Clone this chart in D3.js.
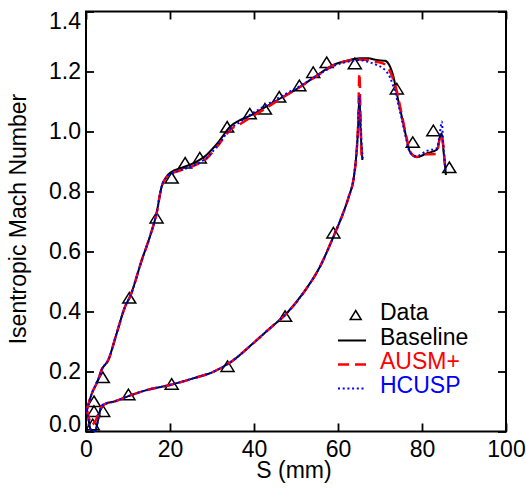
<!DOCTYPE html>
<html>
<head>
<meta charset="utf-8">
<script src="https://cdn.jsdelivr.net/npm/d3@7/dist/d3.min.js"></script>
<style>
  body { margin: 0; background: #fff; }
  svg { display: block; }
  text { font-family: "Liberation Sans", Arial, sans-serif; }
</style>
</head>
<body>
<svg id="chart" width="526" height="489"></svg>
<script>
// ---- Data (S in mm, isentropic Mach number) ----
const xTicks = [0, 20, 40, 60, 80, 100];
const yTicks = [0.0, 0.2, 0.4, 0.6, 0.8, 1.0, 1.2, 1.4];

// Experimental data
const dataS = [1.9, 4.0, 10.3, 16.8, 20.4, 23.6, 27.1, 33.6, 39.0, 42.6, 46.0, 50.8, 54.1, 57.3, 64.0, 74.0, 77.8, 82.7, 86.5,
               1.6, 1.9, 4.1, 10.1, 20.4, 33.7, 47.4, 58.9];
const dataM = [0.099, 0.179, 0.444, 0.711, 0.844, 0.894, 0.911, 1.014, 1.058, 1.074, 1.114, 1.152, 1.196, 1.229, 1.225, 1.141, 0.963, 1.002, 0.879,
               0.022, 0.066, 0.066, 0.122, 0.157, 0.216, 0.383, 0.661];

// Baseline – suction side
const baseUpS = [0.2, 1.4, 2.9, 3.7, 5.3, 7.3, 9.3, 10.5, 13.3, 15.2, 16.8, 18.0, 19.2, 20.4, 22.4, 25.5, 28.7, 30.3, 31.9, 34.3, 36.7, 39.0, 42.2, 46.2, 51.0, 55.7, 58.9, 62.1, 65.2, 67.2, 69.2, 71.2, 72.4, 73.2, 74.0, 75.2, 76.4, 77.1, 78.7, 81.1, 83.6, 84.3, 84.7, 85.1, 85.7];
const baseUpM = [0.072, 0.127, 0.172, 0.205, 0.238, 0.327, 0.416, 0.450, 0.572, 0.649, 0.727, 0.816, 0.850, 0.866, 0.877, 0.894, 0.922, 0.945, 0.972, 1.016, 1.038, 1.052, 1.077, 1.110, 1.149, 1.194, 1.222, 1.236, 1.244, 1.244, 1.238, 1.236, 1.216, 1.183, 1.127, 1.049, 0.972, 0.933, 0.914, 0.927, 0.940, 0.983, 0.994, 0.938, 0.855];
// Baseline – pressure side
const baseLoS = [0.2, 0.6, 1.0, 1.6, 2.2, 2.9, 3.7, 4.9, 6.5, 10.1, 14.4, 20.0, 25.5, 30.3, 34.3, 39.8, 43.8, 47.8, 51.7, 55.7, 58.9, 60.9, 62.5, 63.8, 64.4, 64.8, 65.1, 65.4, 65.8];
const baseLoM = [0.072, 0.040, 0.010, 0.000, 0.002, 0.040, 0.085, 0.094, 0.099, 0.118, 0.138, 0.155, 0.177, 0.199, 0.230, 0.294, 0.344, 0.394, 0.461, 0.549, 0.649, 0.716, 0.780, 0.850, 0.927, 1.016, 1.120, 1.000, 0.905];

// AUSM+ – suction side
const ausmUpS = [0.2, 1.4, 2.9, 3.7, 5.3, 7.3, 9.3, 10.5, 13.3, 15.2, 16.8, 18.0, 19.2, 20.4, 22.4, 25.5, 28.7, 31.9, 34.3, 36.7, 39.0, 42.2, 46.2, 51.0, 55.7, 58.9, 62.1, 65.2, 67.2, 69.2, 71.0, 72.2, 73.0, 74.0, 75.2, 76.4, 77.1, 78.7, 81.1, 83.4, 84.5, 85.0, 85.5];
const ausmUpM = [0.072, 0.127, 0.172, 0.205, 0.238, 0.327, 0.416, 0.450, 0.572, 0.649, 0.727, 0.816, 0.848, 0.860, 0.870, 0.885, 0.910, 0.962, 1.005, 1.025, 1.045, 1.072, 1.108, 1.149, 1.192, 1.220, 1.235, 1.240, 1.238, 1.232, 1.225, 1.205, 1.180, 1.135, 1.055, 0.975, 0.935, 0.916, 0.924, 0.925, 0.988, 0.960, 0.883];
// AUSM+ – pressure side
const ausmLoS = [0.2, 0.7, 1.4, 2.0, 2.9, 3.7, 4.9, 6.5, 10.1, 14.4, 20.0, 25.5, 30.3, 34.3, 39.8, 43.8, 47.8, 51.7, 55.7, 58.9, 60.9, 62.5, 63.8, 64.4, 64.8, 65.1, 65.35, 65.6];
const ausmLoM = [0.072, 0.045, 0.022, 0.030, 0.055, 0.082, 0.094, 0.099, 0.118, 0.138, 0.155, 0.177, 0.199, 0.230, 0.294, 0.344, 0.394, 0.461, 0.549, 0.649, 0.716, 0.780, 0.850, 0.927, 1.030, 1.194, 1.050, 0.920];

// HCUSP – suction side
const hcuspUpS = [0.2, 1.4, 2.9, 3.7, 5.3, 7.3, 9.3, 10.5, 13.3, 15.2, 16.8, 18.0, 19.2, 20.4, 22.4, 25.5, 28.7, 31.9, 34.3, 36.7, 39.0, 42.2, 46.2, 51.0, 55.7, 58.9, 62.1, 65.2, 67.2, 69.2, 70.8, 72.4, 73.2, 74.0, 75.2, 76.4, 77.1, 78.7, 81.1, 83.6, 84.3, 84.7, 85.1, 85.6];
const hcuspUpM = [0.072, 0.127, 0.172, 0.205, 0.238, 0.327, 0.416, 0.450, 0.572, 0.649, 0.727, 0.816, 0.848, 0.860, 0.870, 0.886, 0.912, 0.964, 1.008, 1.032, 1.055, 1.082, 1.115, 1.152, 1.192, 1.218, 1.232, 1.238, 1.232, 1.222, 1.210, 1.180, 1.150, 1.110, 1.040, 0.965, 0.930, 0.918, 0.935, 0.945, 1.000, 1.033, 0.950, 0.870];
// HCUSP – pressure side
const hcuspLoS = [0.2, 0.6, 1.0, 1.6, 2.2, 2.9, 3.7, 4.9, 6.5, 10.1, 14.4, 20.0, 25.5, 30.3, 34.3, 39.8, 43.8, 47.8, 51.7, 55.7, 58.9, 60.9, 62.5, 63.8, 64.4, 64.8, 65.1, 65.45, 65.9];
const hcuspLoM = [0.072, 0.040, 0.010, 0.000, 0.002, 0.040, 0.085, 0.094, 0.099, 0.118, 0.138, 0.155, 0.177, 0.199, 0.230, 0.294, 0.344, 0.394, 0.461, 0.549, 0.649, 0.716, 0.780, 0.850, 0.927, 1.016, 1.120, 1.000, 0.910];

const legendLabels = ["Data", "Baseline", "AUSM+", "HCUSP"];

// ---- Layout ----
const svg = d3.select("#chart");
const L = 86, R = 506, T = 11.5, B = 431.5;
const x = d3.scaleLinear().domain([0, 100]).range([L, R]);
const y = d3.scaleLinear().domain([0, 1.4]).range([B, T]);
const FS = 23;

const zip = (a, b) => a.map((v, i) => [v, b[i]]);
const line = d3.line().x(d => x(d[0])).y(d => y(d[1])).curve(d3.curveMonotoneX);

// Axes
const gB = svg.append("g").attr("transform", `translate(0,${B})`)
  .call(d3.axisBottom(x).tickValues(xTicks).tickSizeInner(-8).tickSizeOuter(0).tickPadding(9.5).tickFormat(d3.format("d")));
const gL = svg.append("g").attr("transform", `translate(${L},0)`)
  .call(d3.axisLeft(y).tickValues(yTicks).tickSizeInner(-8).tickSizeOuter(0).tickPadding(5).tickFormat(d3.format(".1f")));
svg.append("g").attr("transform", `translate(0,${T})`)
  .call(d3.axisTop(x).tickValues(xTicks).tickSizeInner(-8).tickSizeOuter(0).tickFormat(""));
svg.append("g").attr("transform", `translate(${R},0)`)
  .call(d3.axisRight(y).tickValues(yTicks).tickSizeInner(-8).tickSizeOuter(0).tickFormat(""));

svg.selectAll(".domain").remove();
svg.selectAll(".tick line").attr("stroke", "#000").attr("stroke-width", 1.8);
svg.selectAll(".tick text").attr("fill", "#000").style("font-size", FS + "px")
  .style("font-family", '"Liberation Sans", Arial, sans-serif');
// keep end labels inside the frame
gL.selectAll(".tick text").filter(d => d === 1.4).attr("dy", "0.72em");
gL.selectAll(".tick text").filter(d => d === 0).attr("dy", "-0.02em");

svg.append("rect").attr("x", L).attr("y", T).attr("width", R - L).attr("height", B - T)
  .attr("fill", "none").attr("stroke", "#000").attr("stroke-width", 2);

// Axis titles
svg.append("text").attr("x", 294).attr("y", 478).attr("text-anchor", "middle")
  .style("font-size", FS + "px").text("S (mm)");
svg.append("text").attr("transform", `translate(26,${219}) rotate(-90)`).attr("text-anchor", "middle")
  .style("font-size", "23px").text("Isentropic Mach Number");

// Data markers
const tri = (cx, cy, w, h) => `M${cx},${cy - h * 0.55}L${cx - w / 2},${cy + h * 0.45}L${cx + w / 2},${cy + h * 0.45}Z`;
svg.append("g").selectAll("path").data(zip(dataS, dataM)).join("path")
  .attr("d", d => tri(x(d[0]), y(d[1]), 13, 10.5))
  .attr("fill", "none").attr("stroke", "#000").attr("stroke-width", 1.5);

// Curves
const styles = [
  { up: zip(baseUpS, baseUpM), lo: zip(baseLoS, baseLoM), color: "#000", width: 2, dash: null },
  { up: zip(ausmUpS, ausmUpM), lo: zip(ausmLoS, ausmLoM), color: "#ff0000", width: 2.5, dash: "11,6" },
  { up: zip(hcuspUpS, hcuspUpM), lo: zip(hcuspLoS, hcuspLoM), color: "#0000ff", width: 2, dash: "2,2.7" }
];
styles.forEach(s => {
  [s.up, s.lo].forEach(pts => {
    svg.append("path").attr("d", line(pts)).attr("fill", "none")
      .attr("stroke", s.color).attr("stroke-width", s.width)
      .attr("stroke-dasharray", s.dash);
  });
});

// Legend
const lg = svg.append("g");
const rowY = [320, 345, 369, 393];
const textColors = ["#000", "#000", "#ff0000", "#0000ff"];
lg.append("path").attr("d", tri(355.7, rowY[0] - 4.5, 11, 9)).attr("fill", "none").attr("stroke", "#000").attr("stroke-width", 1.5);
styles.forEach((s, i) => {
  lg.append("line").attr("x1", 338).attr("x2", 366).attr("y1", rowY[i + 1] - 4.5).attr("y2", rowY[i + 1] - 4.5)
    .attr("stroke", s.color).attr("stroke-width", s.width).attr("stroke-dasharray", s.dash);
});
legendLabels.forEach((t, i) => {
  lg.append("text").attr("x", 380).attr("y", rowY[i]).attr("fill", textColors[i])
    .style("font-size", FS + "px").text(t);
});
</script>
</body>
</html>
